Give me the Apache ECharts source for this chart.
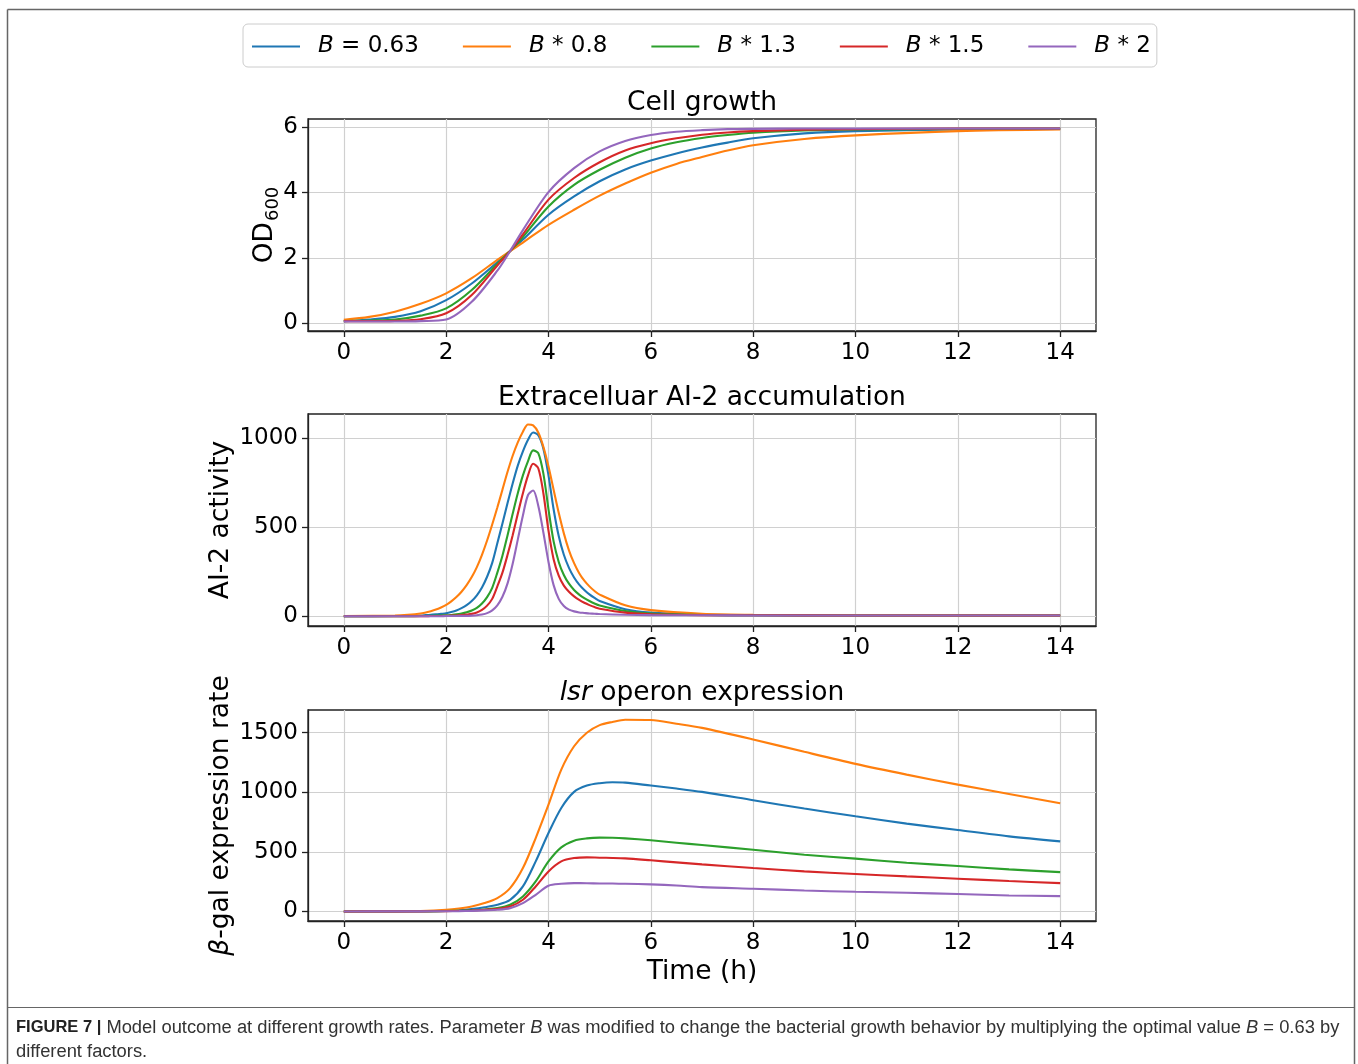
<!DOCTYPE html>
<html><head><meta charset="utf-8">
<script src="https://cdn.jsdelivr.net/npm/echarts@6/dist/echarts.min.js"></script>
<style>html,body{margin:0;padding:0;background:#fff}#c{width:1358px;height:1064px}</style>
</head><body><div id="c"></div>
<script>
// ---------- data ----------
const seriesNames = ['B = 0.63', 'B * 0.8', 'B * 1.3', 'B * 1.5', 'B * 2'];
const colors = ['#1f77b4', '#ff7f0e', '#2ca02c', '#d62728', '#9467bd'];
const xTicks = [0, 2, 4, 6, 8, 10, 12, 14];
const growthTicks = [0, 2, 4, 6];
const ai2Ticks = [0, 500, 1000];
const lsrTicks = [0, 500, 1000, 1500];

// Panel 1: cell growth (OD600)
const tGrowth = [0, 0.5, 1, 1.5, 2, 2.5, 3, 3.25, 3.5, 4, 4.5, 5, 5.5, 6, 6.5, 7, 7.5, 8, 9, 10, 12, 14];
const growthBlue   = [0.07, 0.12, 0.20, 0.37, 0.71, 1.22, 1.87, 2.21, 2.56, 3.32, 3.88, 4.34, 4.70, 4.97, 5.19, 5.37, 5.52, 5.65, 5.80, 5.87, 5.92, 5.94];
const growthOrange = [0.11, 0.20, 0.36, 0.60, 0.92, 1.38, 1.94, 2.21, 2.47, 3.01, 3.47, 3.90, 4.27, 4.60, 4.87, 5.08, 5.28, 5.44, 5.63, 5.74, 5.87, 5.92];
const growthGreen  = [0.07, 0.09, 0.12, 0.24, 0.46, 1.02, 1.82, 2.21, 2.64, 3.57, 4.23, 4.69, 5.06, 5.34, 5.53, 5.66, 5.75, 5.82, 5.89, 5.92, 5.94, 5.95];
const growthRed    = [0.07, 0.07, 0.08, 0.13, 0.31, 0.87, 1.77, 2.21, 2.72, 3.78, 4.44, 4.92, 5.28, 5.50, 5.65, 5.76, 5.83, 5.87, 5.91, 5.93, 5.95, 5.95];
const growthPurple = [0.06, 0.06, 0.06, 0.07, 0.12, 0.66, 1.61, 2.21, 2.85, 4.01, 4.74, 5.25, 5.57, 5.75, 5.85, 5.90, 5.93, 5.94, 5.95, 5.95, 5.95, 5.95];

// Panel 2: extracellular AI-2
const tAi2 = [0, 1, 1.25, 1.5, 1.6, 1.7, 1.8, 1.9,
  2.0, 2.1, 2.2, 2.3, 2.4, 2.5, 2.6, 2.7, 2.8, 2.9,
  3.0, 3.1, 3.2, 3.3, 3.4, 3.5, 3.6, 3.7, 3.8, 3.9,
  4.0, 4.1, 4.2, 4.3, 4.4, 4.5, 4.6, 4.7, 4.8, 4.9, 5.0,
  5.5, 6, 7, 8, 10, 14];
const ai2Blue   = [1, 2, 3, 5, 7, 9, 11, 14,
  17, 24, 33, 46, 63, 86, 118, 162, 222, 300,
  410, 520, 635, 745, 845, 925, 990, 1030, 1015, 940,
  790, 600, 450, 345, 272, 218, 178, 148, 123, 103, 86,
  40, 21, 10, 7, 5, 5];
const ai2Orange = [2, 5, 9, 16, 22, 29, 38, 50,
  64, 84, 108, 138, 175, 220, 276, 345, 425, 515,
  610, 710, 810, 900, 975, 1035, 1075, 1070, 1030, 950,
  840, 710, 580, 465, 370, 298, 242, 200, 168, 142, 122,
  62, 35, 15, 9, 6, 5];
const ai2Green  = [1, 1, 1, 2, 2, 3, 4, 5,
  6, 8, 11, 16, 23, 33, 48, 72, 108, 160,
  245, 340, 455, 575, 690, 790, 870, 930, 915, 800,
  600, 420, 305, 232, 183, 148, 122, 102, 86, 72, 61,
  30, 16, 8, 6, 5, 5];
const ai2Red    = [1, 1, 1, 1, 1, 2, 2, 2,
  3, 4, 5, 7, 10, 14, 22, 36, 60, 98,
  168, 245, 345, 455, 575, 690, 790, 855, 830, 690,
  480, 320, 228, 172, 138, 112, 92, 76, 63, 52, 43,
  21, 12, 7, 6, 5, 5];
const ai2Purple = [1, 1, 1, 1, 1, 1, 1, 1,
  2, 2, 2, 3, 3, 4, 6, 10, 18, 34,
  62, 110, 185, 295, 430, 565, 680, 705, 620, 470,
  305, 175, 98, 58, 38, 28, 22, 19, 16, 15, 13,
  9, 7, 6, 5, 5, 5];

// Panel 3: lsr operon expression
const tLsr = [0, 1, 1.5, 2, 2.25, 2.5, 2.75, 3, 3.25, 3.5, 3.75, 4, 4.25, 4.5, 4.75, 5, 5.25, 5.5, 6, 6.5, 7, 8, 9, 10, 11, 12, 13, 14];
const lsrBlue   = [0, 1, 2, 5, 10, 20, 35, 56, 98, 210, 420, 658, 868, 1003, 1056, 1076, 1084, 1081, 1056, 1031, 1003, 933, 863, 798, 737, 683, 630, 588];
const lsrOrange = [0, 1, 4, 14, 25, 42, 70, 112, 196, 364, 616, 896, 1190, 1386, 1499, 1563, 1590, 1608, 1606, 1575, 1540, 1443, 1339, 1238, 1148, 1064, 986, 908];
const lsrGreen  = [0, 1, 1, 4, 6, 10, 17, 28, 56, 126, 252, 420, 538, 594, 613, 619, 618, 613, 597, 577, 557, 518, 476, 443, 409, 381, 353, 330];
const lsrRed    = [0, 1, 1, 3, 5, 8, 14, 22, 42, 98, 210, 336, 420, 448, 454, 451, 449, 445, 429, 412, 395, 364, 336, 314, 294, 275, 255, 238];
const lsrPurple = [0, 1, 1, 2, 3, 5, 9, 14, 28, 70, 140, 216, 232, 238, 237, 235, 234, 232, 227, 218, 204, 190, 176, 165, 157, 146, 134, 129];

// ---------- chart ----------
const FONT = 'DejaVu Sans';
const FS = 23;      // tick labels
const FL = 26.5;    // titles and axis names
const panels = [
  { t: tGrowth, ys: [growthBlue, growthOrange, growthGreen, growthRed, growthPurple], min: -0.23, max: 6.24, ticks: growthTicks, split: 3 },
  { t: tAi2, ys: [ai2Blue, ai2Orange, ai2Green, ai2Red, ai2Purple], min: -54, max: 1134, ticks: ai2Ticks, split: 2 },
  { t: tLsr, ys: [lsrBlue, lsrOrange, lsrGreen, lsrRed, lsrPurple], min: -80, max: 1690, ticks: lsrTicks, split: 4 }
];
const gridTops = [119, 414, 710];
const gridHeights = [212, 212, 211];

const grids = gridTops.map((top, i) => ({
  left: 308, width: 788, top: top, height: gridHeights[i],
  show: true, borderColor: '#222', borderWidth: 1.3, backgroundColor: 'transparent'
}));

const tickText = { fontSize: FS, color: '#000', fontFamily: FONT };
const nameText = { fontSize: FL, color: '#000', fontFamily: FONT };

const xAxes = panels.map((p, i) => ({
  type: 'value', gridIndex: i, min: -0.7, max: 14.7, splitNumber: 7,
  axisLine: { show: true, onZero: false, lineStyle: { color: '#222', width: 1.3 } },
  axisTick: { show: true, length: 6, customValues: xTicks, lineStyle: { color: '#222', width: 1.3 } },
  axisLabel: Object.assign({ customValues: xTicks, margin: 11, formatter: v => String(v) }, tickText),
  splitLine: { show: true, lineStyle: { color: '#d0d0d0', width: 1.2 } },
  name: i === 2 ? 'Time (h)' : '',
  nameLocation: 'middle', nameGap: 38,
  nameTextStyle: nameText
}));

const yNames = ['{n|OD}{s|600}', 'AI-2 activity', '{i|β}-gal expression rate'];
const yGaps = [26, 73, 73];
const yAxes = panels.map((p, i) => ({
  type: 'value', gridIndex: i, min: p.min, max: p.max, splitNumber: p.split,
  axisLine: { show: true, onZero: false, lineStyle: { color: '#222', width: 1.3 } },
  axisTick: { show: true, length: 6, customValues: p.ticks, lineStyle: { color: '#222', width: 1.3 } },
  axisLabel: Object.assign({ customValues: p.ticks, margin: 10, formatter: v => String(v) }, tickText),
  splitLine: { show: true, lineStyle: { color: '#d0d0d0', width: 1.2 } },
  name: yNames[i], nameLocation: 'middle', nameGap: yGaps[i], nameRotate: 90,
  nameMoveOverlap: false,
  nameTextStyle: Object.assign({
    rich: {
      n: { fontSize: FL, fontFamily: FONT, color: '#000', lineHeight: 30, verticalAlign: 'top' },
      s: { fontSize: 18, fontFamily: FONT, color: '#000', lineHeight: 30, verticalAlign: 'bottom', padding: [0, 0, 0, 1] },
      i: { fontSize: FL, fontFamily: FONT, color: '#000', fontStyle: 'italic' }
    }
  }, nameText)
}));

const series = [];
panels.forEach((p, pi) => {
  p.ys.forEach((vals, si) => {
    series.push({
      name: seriesNames[si], type: 'line', xAxisIndex: pi, yAxisIndex: pi,
      data: p.t.map((t, k) => [t, vals[k]]),
      showSymbol: false, symbol: 'none', smooth: 0.3, color: colors[si],
      lineStyle: { width: 2.1, color: colors[si] }, z: 2 + si, animation: false
    });
  });
});

const titleY = [103, 398, 693];
const titleTexts = ['Cell growth', 'Extracelluar AI-2 accumulation', '{i|lsr} operon expression'];
const graphics = titleTexts.map((txt, i) => ({
  type: 'text', x: 702, y: titleY[i], silent: true,
  style: {
    text: txt, fontSize: FL, fontFamily: FONT, fill: '#000', align: 'center', verticalAlign: 'middle',
    rich: { i: { fontStyle: 'italic', fontSize: FL, fontFamily: FONT, fill: '#000' } }
  }
}));
// frame & caption
const frameColor = '#666';
graphics.push(
  { type: 'line', shape: { x1: 7.5, y1: 9.5, x2: 1354.5, y2: 9.5 }, style: { stroke: frameColor, lineWidth: 1.5 }, silent: true },
  { type: 'line', shape: { x1: 7.5, y1: 9.5, x2: 7.5, y2: 1064 }, style: { stroke: frameColor, lineWidth: 1.5 }, silent: true },
  { type: 'line', shape: { x1: 1354.5, y1: 9.5, x2: 1354.5, y2: 1064 }, style: { stroke: frameColor, lineWidth: 1.5 }, silent: true },
  { type: 'line', shape: { x1: 7.5, y1: 1007.5, x2: 1354.5, y2: 1007.5 }, style: { stroke: frameColor, lineWidth: 1.2 }, silent: true },
  {
    type: 'text', x: 16, y: 1039.5, silent: true,
    style: {
      text: '{b|FIGURE 7 |} Model outcome at different growth rates. Parameter {i|B} was modified to change the bacterial growth behavior by multiplying the optimal value {i|B} = 0.63 by\ndifferent factors.',
      fontSize: 18.35, fontFamily: 'Liberation Sans', fill: '#333', align: 'left', verticalAlign: 'middle', lineHeight: 24,
      rich: {
        b: { fontWeight: 'bold', fontSize: 16.5, fontFamily: 'Liberation Sans', fill: '#222', lineHeight: 24 },
        i: { fontStyle: 'italic', fontSize: 18.35, fontFamily: 'Liberation Sans', fill: '#333', lineHeight: 24 }
      }
    }
  }
);

const chart = echarts.init(document.getElementById('c'), null, { renderer: 'canvas' });
chart.setOption({
  animation: false,
  backgroundColor: '#fff',
  grid: grids,
  xAxis: xAxes,
  yAxis: yAxes,
  legend: {
    left: 243, top: 24, orient: 'horizontal',
    data: seriesNames,
    icon: 'rect', itemWidth: 48, itemHeight: 2.2, itemGap: 44,
    padding: [11, 6, 9, 9],
    borderColor: '#ccc', borderWidth: 1, borderRadius: 5, backgroundColor: '#fff',
    textStyle: {
      fontSize: FS, fontFamily: FONT, color: '#000',
      rich: {
        s: { width: 13 },
        i: { fontStyle: 'italic', fontSize: FS, fontFamily: FONT, color: '#000' }
      }
    },
    formatter: function (name) { return '{s| }{i|B}' + name.slice(1); }
  },
  graphic: graphics,
  series: series
});
</script>
</body></html>
